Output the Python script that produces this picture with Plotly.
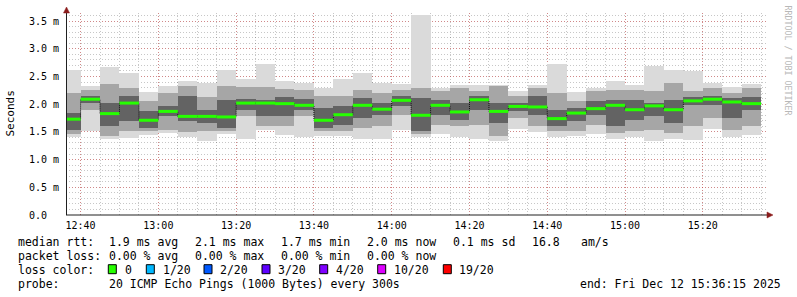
import pandas as pd
import plotly.graph_objects as go

# ---------------- data (ms) ----------------
times = ["2025-12-12 12:35", "2025-12-12 12:40", "2025-12-12 12:45", "2025-12-12 12:50",
         "2025-12-12 12:55", "2025-12-12 13:00", "2025-12-12 13:05", "2025-12-12 13:10",
         "2025-12-12 13:15", "2025-12-12 13:20", "2025-12-12 13:25", "2025-12-12 13:30",
         "2025-12-12 13:35", "2025-12-12 13:40", "2025-12-12 13:45", "2025-12-12 13:50",
         "2025-12-12 13:55", "2025-12-12 14:00", "2025-12-12 14:05", "2025-12-12 14:10",
         "2025-12-12 14:15", "2025-12-12 14:20", "2025-12-12 14:25", "2025-12-12 14:30",
         "2025-12-12 14:35", "2025-12-12 14:40", "2025-12-12 14:45", "2025-12-12 14:50",
         "2025-12-12 14:55", "2025-12-12 15:00", "2025-12-12 15:05", "2025-12-12 15:10",
         "2025-12-12 15:15", "2025-12-12 15:20", "2025-12-12 15:25", "2025-12-12 15:30"]

max_ms = [2.62, 2.32, 2.68, 2.56, 2.22, 2.32, 2.41, 2.39, 2.62, 2.45, 2.73, 2.41,
          2.38, 2.29, 2.46, 2.57, 2.38, 2.36, 3.61, 2.29, 2.35, 2.35, 2.35, 2.24,
          2.35, 2.73, 2.22, 2.30, 2.42, 2.35, 2.69, 2.62, 2.60, 2.39, 2.31, 2.36]
hi2_ms = [2.20, 2.25, 2.37, 2.30, 2.05, 2.20, 2.32, 2.13, 2.32, 2.31, 2.31, 2.27,
          2.26, 2.14, 2.14, 2.26, 2.20, 2.26, 2.29, 2.23, 2.29, 2.23, 2.32, 2.14,
          2.29, 2.20, 2.05, 2.23, 2.26, 2.25, 2.23, 2.39, 2.23, 2.29, 2.20, 2.29]
hi3_ms = [1.85, 2.15, 2.03, 2.14, 1.87, 1.97, 2.14, 1.90, 2.08, 2.09, 2.08, 2.13,
          2.09, 1.93, 1.96, 2.11, 2.02, 2.14, 2.11, 2.08, 2.03, 2.15, 2.03, 2.03,
          2.14, 1.90, 1.93, 2.05, 2.08, 2.08, 2.03, 2.08, 2.13, 2.15, 2.11, 2.13]
median_ms = [1.73, 2.09, 1.83, 2.02, 1.71, 1.87, 1.78, 1.78, 1.77, 2.02, 2.02, 2.01,
             1.98, 1.71, 1.81, 1.98, 1.91, 2.07, 1.80, 1.98, 1.86, 2.08, 1.87, 1.96,
             1.95, 1.74, 1.84, 1.92, 1.98, 1.90, 1.97, 1.90, 2.06, 2.09, 2.04, 2.01]
lo3_ms = [1.54, 2.02, 1.60, 1.69, 1.57, 1.78, 1.69, 1.66, 1.57, 1.90, 1.78, 1.78,
          1.90, 1.57, 1.63, 1.75, 1.81, 1.96, 1.51, 1.81, 1.72, 1.90, 1.66, 1.87,
          1.81, 1.60, 1.69, 1.81, 1.60, 1.72, 1.78, 1.66, 1.99, 1.99, 1.75, 1.90]
lo2_ms = [1.46, 1.90, 1.43, 1.51, 1.51, 1.54, 1.49, 1.51, 1.51, 1.78, 1.60, 1.60,
          1.78, 1.51, 1.52, 1.57, 1.60, 1.81, 1.46, 1.63, 1.60, 1.63, 1.42, 1.75,
          1.60, 1.51, 1.52, 1.63, 1.48, 1.51, 1.54, 1.48, 1.60, 1.75, 1.54, 1.60]
min_ms = [1.40, 1.51, 1.37, 1.39, 1.44, 1.48, 1.40, 1.34, 1.46, 1.38, 1.53, 1.45,
          1.40, 1.42, 1.43, 1.37, 1.37, 1.53, 1.41, 1.47, 1.41, 1.37, 1.34, 1.56,
          1.49, 1.41, 1.42, 1.47, 1.38, 1.40, 1.33, 1.37, 1.36, 1.56, 1.41, 1.45]

x_tick_vals = ["2025-12-12 12:40", "2025-12-12 13:00", "2025-12-12 13:20", "2025-12-12 13:40",
               "2025-12-12 14:00", "2025-12-12 14:20", "2025-12-12 14:40", "2025-12-12 15:00",
               "2025-12-12 15:20"]
x_tick_text = ["12:40", "13:00", "13:20", "13:40", "14:00", "14:20", "14:40", "15:00", "15:20"]
y_tick_vals = [0.0, 0.5, 1.0, 1.5, 2.0, 2.5, 3.0, 3.5]
y_tick_text = ["0.0\u00a0\u00a0", "0.5 m", "1.0 m", "1.5 m", "2.0 m", "2.5 m", "3.0 m", "3.5 m"]

loss_labels = ["0", "1/20", "2/20", "3/20", "4/20", "10/20", "19/20"]
loss_colors = ["#26ff00", "#00b8ff", "#0059ff", "#5e00ff", "#7e00ff", "#dd00ff", "#ff0000"]

# ---------------- geometry ----------------
W, H = 797, 297
L, R, T, B = 66, 31, 13, 82
PW, PH = W - L - R, H - T - B
STEP_MS = 300000


def px(x):
    return (x - L) / PW


def py(y):
    return (H - B - y) / PH


fig = go.Figure()

starts = pd.to_datetime(times)
ends = starts + pd.Timedelta(minutes=5)

layers = [(min_ms, max_ms, "#dadada"),
          (lo2_ms, hi2_ms, "#a6a6a6"),
          (lo3_ms, hi3_ms, "#636363")]
for lo, hi, col in layers:
    fig.add_trace(go.Bar(
        x=starts, y=[h - l for h, l in zip(hi, lo)], base=lo,
        width=STEP_MS, offset=0,
        marker=dict(color=col, line=dict(width=0)),
        hoverinfo="skip", showlegend=False))

# dotted step connector
step_x = list(starts) + [ends[-1]]
step_y = list(median_ms) + [median_ms[-1]]
fig.add_trace(go.Scatter(x=step_x, y=step_y, mode="lines", line_shape="hv",
                         line=dict(color="#111111", width=1, dash="1px,1px"),
                         hoverinfo="skip", showlegend=False))

# median segments
seg_x, seg_y = [], []
for s, e, m in zip(starts, ends, median_ms):
    seg_x += [s, e, None]
    seg_y += [m, m, None]
fig.add_trace(go.Scatter(x=seg_x, y=seg_y, mode="lines",
                         line=dict(color=loss_colors[0], width=3),
                         hoverinfo="skip", showlegend=False))

mono = "DejaVu Sans Mono"

fig.update_layout(
    width=W, height=H,
    margin=dict(l=L, r=R, t=T, b=B, pad=0),
    paper_bgcolor="white", plot_bgcolor="white",
    barmode="overlay", bargap=0,
    showlegend=False,
    font=dict(family=mono, size=10, color="#000000"),
)

fig.update_xaxes(
    type="date",
    range=["2025-12-12 12:36:15", "2025-12-12 15:36:15"],
    tickmode="array", tickvals=x_tick_vals, ticktext=x_tick_text,
    tickfont=dict(family=mono, size=10, color="#000000"),
    ticks="", ticklabelstandoff=3,
    showgrid=True, gridcolor="rgba(220,60,60,0.45)", gridwidth=1, griddash="1px,2px",
    minor=dict(showgrid=True, tick0="2025-12-12 12:40", dtick=STEP_MS,
               gridcolor="rgba(0,0,0,0.22)", gridwidth=1, griddash="1px,2px"),
    showline=False, zeroline=False, layer="above traces", fixedrange=True,
)
fig.update_yaxes(
    range=[0, 3.646],
    tickmode="array", tickvals=y_tick_vals, ticktext=y_tick_text,
    tickfont=dict(family=mono, size=10, color="#000000"),
    ticks="", ticklabelstandoff=6,
    showgrid=True, gridcolor="rgba(220,60,60,0.45)", gridwidth=1, griddash="1px,2px",
    minor=dict(showgrid=True, tick0=0, dtick=0.1,
               gridcolor="rgba(0,0,0,0.22)", gridwidth=1, griddash="1px,2px"),
    showline=False, zeroline=False, layer="above traces", fixedrange=True,
)

shapes = []
# x axis line + arrow
shapes.append(dict(type="line", xref="paper", yref="paper", x0=px(66), x1=px(769),
                   y0=py(215), y1=py(215), line=dict(color="#202020", width=1)))
shapes.append(dict(type="path", xref="paper", yref="paper",
                   path=f"M {px(767)} {py(212)} L {px(773)} {py(215)} L {px(767)} {py(218)} Z",
                   fillcolor="#8b1c1c", line=dict(color="#8b1c1c", width=0.5)))
# y axis line + arrow
shapes.append(dict(type="line", xref="paper", yref="paper", x0=px(66.5), x1=px(66.5),
                   y0=py(215), y1=py(11), line=dict(color="#202020", width=1)))
shapes.append(dict(type="path", xref="paper", yref="paper",
                   path=f"M {px(63.5)} {py(13)} L {px(66.5)} {py(7)} L {px(69.5)} {py(13)} Z",
                   fillcolor="#8b1c1c", line=dict(color="#8b1c1c", width=0.5)))

# loss colour boxes
box_lefts = [108.3, 146.3, 204, 262, 319.7, 377.7, 443.3]
for bx, col in zip(box_lefts, loss_colors):
    shapes.append(dict(type="rect", xref="paper", yref="paper",
                       x0=px(bx), x1=px(bx + 8), y0=py(273.7), y1=py(264.7),
                       fillcolor=col, line=dict(color="#000000", width=1)))
fig.update_layout(shapes=shapes)

ann = []


def text(x, y, s, size=11.5, color="#000000", angle=0, xanchor="left"):
    ann.append(dict(xref="paper", yref="paper", x=px(x), y=py(y), text=s,
                    showarrow=False, xanchor=xanchor, yanchor="middle",
                    textangle=angle, font=dict(family=mono, size=size, color=color)))


# legend lines
rows = [242, 255.5, 269.5, 283.5]
text(16, rows[0], "median rtt:")
for xx, s in zip([107.3, 193.3, 279.3, 365, 451, 530, 579],
                 ["1.9 ms avg", "2.1 ms max", "1.7 ms min", "2.0 ms now", "0.1 ms sd", "16.8", "am/s"]):
    text(xx, rows[0], s)
text(16, rows[1], "packet loss:")
for xx, s in zip([107.3, 193.3, 279.3, 365],
                 ["0.00 % avg", "0.00 % max", "0.00 % min", "0.00 % now"]):
    text(xx, rows[1], s)
text(16, rows[2], "loss color:")
for xx, s in zip([123.3, 160.7, 218.3, 276, 334, 392, 456.7], loss_labels):
    text(xx, rows[2], s)
text(16, rows[3], "probe:")
text(107.3, rows[3], "20 ICMP Echo Pings (1000 Bytes) every 300s")
text(578.3, rows[3], "end: Fri Dec 12 15:36:15 2025")

# y title & watermark
text(10, 113.5, "Seconds", size=11, angle=-90, xanchor="center")
text(787.5, 60, "RRDTOOL / TOBI OETIKER", size=8.3, color="#b8b8b8", angle=90, xanchor="center")

fig.update_layout(annotations=ann)

fig.write_html("out.html")
